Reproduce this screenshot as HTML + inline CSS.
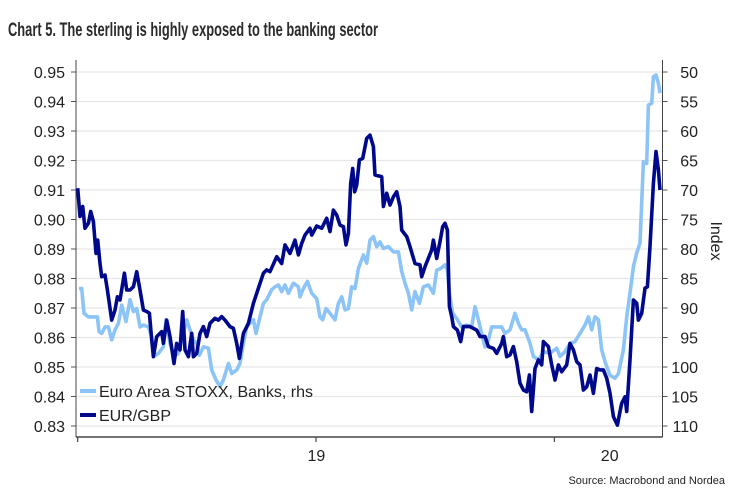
<!DOCTYPE html>
<html><head><meta charset="utf-8"><style>
html,body{margin:0;padding:0;background:#fff;}
svg{display:block;font-family:"Liberation Sans",sans-serif;}
</style></head><body>
<svg id="chart" width="735" height="504" viewBox="0 0 735 504">
<text x="8" y="36" font-size="19" font-weight="bold" fill="#2b2b2b" textLength="370" lengthAdjust="spacingAndGlyphs">Chart 5. The sterling is highly exposed to the banking sector</text>
<g id="grid"></g>
<g id="axes"></g>
<g id="series"></g>
<g>
<line x1="80" y1="391" x2="96" y2="391" stroke="#8cc4f7" stroke-width="4"/>
<text x="99" y="397" font-size="16" fill="#222">Euro Area STOXX, Banks, rhs</text>
<line x1="80" y1="415" x2="96" y2="415" stroke="#00098c" stroke-width="4"/>
<text x="99" y="421" font-size="16" fill="#222">EUR/GBP</text>
</g>
<text transform="translate(711,241) rotate(90)" text-anchor="middle" font-size="16" fill="#222">Index</text>
<text x="725" y="484" text-anchor="end" font-size="11" fill="#222">Source: Macrobond and Nordea</text>
</svg>
<script>
const eurDays=[0,3.5,7.5,11,16,19.5,23.5,27.5,30,33.5,36,41,44.5,51,56,59.5,63.5,70,73.5,78.5,83.5,88.5,93.5,98.5,103.5,107.5,111,113.5,118.5,126,128.5,133.5,138.5,144.5,148.5,153.5,157.5,161,166,171,173.5,178.5,183.5,188.5,193.5,198.5,206,211,216,221,228.5,233.5,238.5,242.5,248.5,256,263.5,271,278.5,283.5,288.5,298.5,306,311,318.5,326,331,336,341,348.5,351,358.5,366,373.5,378.5,383.5,388.5,393.5,398.5,402.5,406,409.5,412.5,415.5,418.5,422.5,427.5,433.5,438.5,443.5,446,456,458.5,463.5,468.5,473.5,478.5,483.5,486,493.5,498.5,506,513.5,516,521,531,533.5,538.5,543.5,547.5,551,554.5,557.5,561,563.5,569.5,574.5,578.5,588.5,598.5,603.5,611,616,623.5,628.5,636,638.5,643.5,648.5,653.5,658.5,663.5,668.5,673.5,677.5,681,686,691,696,698.5,706,711,716,721,726,733.5,738.5,743.5,748.5,753.5,758.5,763.5,768.5,773.5,778.5,783.5,788.5,793.5,798.5,803.5,809.5,813.5,816,821,823.5,828.5,833.5,838.5,841,846,851,854.5,858.5,863.5,867.5,871,873.5];
const eurValues=[0.9106,0.901,0.9044,0.897,0.8987,0.9027,0.8993,0.8885,0.893,0.8851,0.8806,0.8812,0.8761,0.8659,0.8693,0.8738,0.8727,0.8818,0.8761,0.8761,0.8772,0.8823,0.8761,0.8693,0.8688,0.8682,0.8592,0.8535,0.8603,0.862,0.858,0.8659,0.8603,0.8512,0.858,0.8558,0.8688,0.8558,0.8535,0.8614,0.8535,0.8546,0.8614,0.8637,0.8603,0.8648,0.8665,0.8659,0.8671,0.8659,0.8637,0.8631,0.858,0.8529,0.8614,0.8648,0.8716,0.8767,0.8818,0.8829,0.8823,0.8874,0.8851,0.8914,0.8885,0.893,0.888,0.8919,0.8947,0.897,0.8947,0.8978,0.897,0.9004,0.8959,0.9032,0.9015,0.8981,0.8976,0.8914,0.8953,0.9123,0.9173,0.9094,0.9117,0.9202,0.9207,0.9275,0.9286,0.9247,0.9151,0.9145,0.9044,0.9089,0.9049,0.9077,0.9094,0.9044,0.8964,0.8942,0.8908,0.8851,0.8846,0.8806,0.884,0.8897,0.893,0.8868,0.8925,0.8976,0.8987,0.8964,0.8705,0.8671,0.8637,0.8625,0.8586,0.8637,0.8637,0.8625,0.8603,0.8603,0.8569,0.8563,0.8546,0.858,0.8603,0.8535,0.8541,0.8569,0.8518,0.8445,0.8422,0.8416,0.8473,0.8349,0.8495,0.8524,0.8507,0.8586,0.8569,0.8507,0.8456,0.8507,0.8484,0.8507,0.858,0.8558,0.8518,0.8507,0.8422,0.8433,0.8473,0.8411,0.8495,0.849,0.849,0.8462,0.8411,0.8332,0.8303,0.8349,0.8377,0.8399,0.8349,0.8524,0.8727,0.8716,0.8659,0.8682,0.8767,0.8772,0.8908,0.9123,0.923,0.9168,0.91];
const stoxxDays=[2,6,9.5,16,23.5,29.5,32,36,41,46,51,56,61,66,72.5,78.5,83.5,88.5,93.5,98.5,106,111,114.5,121,128.5,132.5,138.5,144.5,151,156,163.5,168.5,173.5,178.5,182.5,188.5,196,201,207.5,213.5,218.5,226,231,238.5,243.5,248.5,253.5,258.5,263.5,267.5,273.5,278.5,283.5,291,296,301,306,311,316,323.5,331,333.5,338.5,344.5,351,358.5,363.5,367.5,372.5,378.5,386,391,396,401,406,411,416,421,428.5,433.5,438.5,443.5,448.5,453.5,458.5,466,473.5,481,486,491,496,501,506,512.5,518.5,526,533.5,538.5,544.5,551,554.5,557.5,562.5,568.5,576,583.5,591,596,601,606,611,616,621,628.5,636,641,648.5,656,661,666,671,678.5,683.5,691,698.5,708.5,718.5,723.5,731,738.5,746,753.5,761,766,771,776,781,786,791,798.5,806,811,818.5,823.5,828.5,833.5,838.5,843.5,848.5,853.5,856,861,863.5,867.5,871,873.5];
const stoxxValues=[86.7,86.7,90.9,91.5,91.5,91.5,94.0,94.3,93.2,93.2,95.4,93.7,92.6,89.5,92.3,88.6,90.6,90.1,93.2,92.9,93.2,94.9,98.2,97.7,96.6,92.0,96.0,98.2,97.7,95.4,92.0,93.7,95.4,96.0,98.0,96.6,96.8,100.5,102.2,103.3,102.2,99.4,101.1,100.5,99.4,96.0,93.2,92.6,92.0,94.3,91.5,89.2,88.6,86.9,86.4,86.1,87.2,86.1,87.5,85.8,86.4,88.1,86.7,85.5,87.5,88.4,91.5,92.0,90.1,90.9,92.0,89.2,88.1,90.3,90.1,86.4,86.7,83.3,81.0,82.4,78.5,77.9,79.6,78.8,79.9,79.6,80.5,80.5,83.8,85.8,87.5,90.3,87.2,89.2,86.4,86.1,87.5,83.6,83.3,82.7,83.6,87.5,90.9,91.8,93.2,92.9,93.2,89.8,92.0,94.3,96.6,95.4,93.2,93.2,93.2,94.3,93.7,90.9,92.6,93.7,93.7,96.0,98.2,98.8,97.4,97.7,96.8,98.2,97.4,96.0,95.7,94.3,92.9,91.5,93.7,91.5,92.0,97.1,99.1,101.4,101.9,101.1,97.1,91.5,87.5,83.0,80.7,79.0,65.2,65.5,55.6,55.3,50.8,50.5,51.9,53.6];
const leftTicks=[0.95,0.94,0.93,0.92,0.91,0.90,0.89,0.88,0.87,0.86,0.85,0.84,0.83];
const rightTicks=[50,55,60,65,70,75,80,85,90,95,100,105,110];
const yearTickDays=[0,357.5,715];
const yearLabels=[{d:358,t:"19"},{d:798,t:"20"}];

const NS="http://www.w3.org/2000/svg";
const X0=77.7,PX_PER_DAY=2/3,TOP=72,BOT=426,AXL=76,AXR=662.5,AXB=437;
const xs=d=>X0+d*PX_PER_DAY;
const yl=v=>TOP+(0.95-v)/0.12*(BOT-TOP);
const yr=v=>TOP+(v-50)/60*(BOT-TOP);
function mk(tag,attrs,parent){const e=document.createElementNS(NS,tag);for(const k in attrs)e.setAttribute(k,attrs[k]);parent.appendChild(e);return e;}
const grid=document.getElementById('grid'),axes=document.getElementById('axes'),series=document.getElementById('series');
leftTicks.forEach((v,i)=>{
  const y=yl(v);
  const g=mk('line',{x1:AXL,x2:AXR,y1:y,y2:y,stroke:'#e6e6e6','stroke-width':1.3},grid);
  
  
  const tk=mk('line',{x1:AXL-5,x2:AXL,y1:y,y2:y,stroke:'#555','stroke-width':1},axes);
  
  
  const t=mk('text',{x:65,y:y+6,'text-anchor':'end','font-size':16,fill:'#222'},axes);
  t.textContent=v.toFixed(2);
  
  
});
rightTicks.forEach(v=>{
  const y=yr(v);
  const tk=mk('line',{x1:AXR,x2:AXR+5,y1:y,y2:y,stroke:'#555','stroke-width':1},axes);
  
  
  const t=mk('text',{x:698,y:y+6,'text-anchor':'end','font-size':16,fill:'#222'},axes);
  t.textContent=String(v);
  
  
});
const a1=mk('line',{x1:AXL,x2:AXL,y1:60,y2:AXB,stroke:'#444','stroke-width':1},axes);


const a2=mk('line',{x1:AXR,x2:AXR,y1:60,y2:AXB,stroke:'#444','stroke-width':1},axes);


const a3=mk('line',{x1:AXL,x2:AXR,y1:AXB,y2:AXB,stroke:'#222','stroke-width':1.3},axes);


yearTickDays.forEach(d=>{
  const tk=mk('line',{x1:xs(d),x2:xs(d),y1:AXB,y2:AXB+5,stroke:'#444','stroke-width':1.2},axes);
  
  
});
yearLabels.forEach(o=>{
  const t=mk('text',{x:xs(o.d),y:AXB+24,'text-anchor':'middle','font-size':16,fill:'#222'},axes);
  t.textContent=o.t;
  
  
});
function path(days,vals,yf){return days.map((d,i)=>(i?'L':'M')+xs(d).toFixed(1)+','+yf(vals[i]).toFixed(1)).join('');}
const p1=mk('path',{d:path(stoxxDays,stoxxValues,yr),fill:'none',stroke:'#8cc4f7','stroke-width':3.6,'stroke-linejoin':'round'},series);


const p2=mk('path',{d:path(eurDays,eurValues,yl),fill:'none',stroke:'#00098c','stroke-width':3.6,'stroke-linejoin':'round'},series);


</script>
</body></html>
